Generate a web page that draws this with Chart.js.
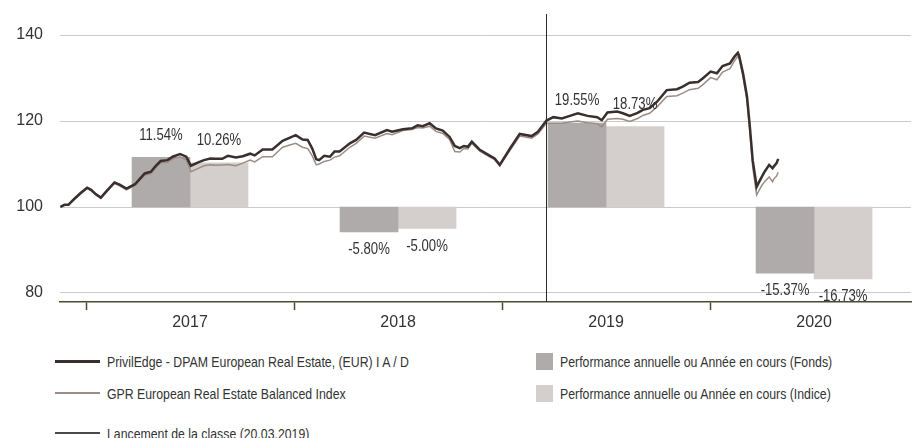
<!DOCTYPE html>
<html>
<head>
<meta charset="utf-8">
<script src="https://cdn.jsdelivr.net/npm/chart.js@4.4.1/dist/chart.umd.min.js"></script>
<style>
    html, body { margin: 0; padding: 0; background: #fff; width: 912px; height: 438px; overflow: hidden; }
    .chart-wrap { position: relative; width: 912px; height: 340px; }
    .legend { font-family: 'Liberation Sans', Arial, sans-serif; font-size: 15px; color: #333; }
    .legend__item { position: absolute; display: flex; align-items: center; height: 20px; white-space: nowrap; }
    .legend__line { width: 45px; margin-right: 7px; }
    .legend__box { width: 17px; height: 17px; margin-right: 7px; }
    .legend__text { display: inline-block; transform: scaleX(0.82); transform-origin: left center; }
</style>
</head>
<body>
<div class="chart-wrap"><canvas id="chart" width="912" height="340"></canvas></div>
<div class="legend" id="legend"></div>
<script>
'use strict'
const dates = [
    '2016-11-17', '2016-11-24', '2016-12-01', '2016-12-09', '2016-12-22',
    '2017-01-03', '2017-01-10', '2017-01-18', '2017-01-27', '2017-02-08', '2017-02-20', '2017-03-01', '2017-03-13',
    '2017-03-28', '2017-04-05', '2017-04-14', '2017-04-25', '2017-05-03', '2017-05-12', '2017-05-24', '2017-06-02',
    '2017-06-15', '2017-06-26', '2017-07-04', '2017-07-17', '2017-07-27', '2017-08-07', '2017-08-17', '2017-08-28',
    '2017-09-07', '2017-09-21', '2017-10-03', '2017-10-16', '2017-10-24', '2017-11-07', '2017-11-24', '2017-12-12',
    '2017-12-26',
    '2018-01-04', '2018-01-16', '2018-01-25', '2018-02-02', '2018-02-09', '2018-02-14', '2018-02-23', '2018-03-05',
    '2018-03-13', '2018-03-22', '2018-04-09', '2018-04-20', '2018-05-04', '2018-05-23', '2018-06-13', '2018-06-22',
    '2018-07-11', '2018-07-27', '2018-08-06', '2018-08-15', '2018-08-27', '2018-09-07', '2018-09-19', '2018-10-01',
    '2018-10-10', '2018-10-19', '2018-10-26', '2018-11-02', '2018-11-09', '2018-11-23', '2018-12-11', '2018-12-19',
    '2018-12-28',
    '2019-01-15', '2019-02-01', '2019-02-22', '2019-03-05', '2019-03-20', '2019-04-01', '2019-04-16', '2019-04-30',
    '2019-05-14', '2019-05-31', '2019-06-17', '2019-06-25', '2019-07-05', '2019-07-22', '2019-08-01', '2019-08-13',
    '2019-08-27', '2019-09-05', '2019-09-17', '2019-09-30', '2019-10-17', '2019-11-04', '2019-11-14', '2019-11-26',
    '2019-12-11', '2019-12-19',
    '2020-01-02', '2020-01-13', '2020-01-23', '2020-02-05', '2020-02-13', '2020-02-19', '2020-02-21', '2020-02-28',
    '2020-03-06', '2020-03-11', '2020-03-16', '2020-03-23', '2020-03-26', '2020-04-01', '2020-04-06', '2020-04-14',
    '2020-04-20', '2020-04-22', '2020-04-27', '2020-04-30'
];
const fundValues = [
    100.0, 100.5, 100.5, 101.6, 103.2,
    104.5, 104.0, 103.0, 102.2, 104.0, 105.7, 105.2, 104.3,
    105.3, 106.5, 107.8, 108.2, 109.5, 110.7, 110.9, 111.7,
    112.3, 111.7, 109.6, 110.4, 110.9, 111.3, 111.2, 111.2,
    111.9, 111.5, 111.8, 112.4, 112.0, 113.4, 113.4, 115.4,
    116.2,
    116.7, 115.7, 115.6, 113.6, 111.1, 110.9, 111.9, 111.7,
    112.9, 112.9, 114.8, 115.6, 117.3, 116.7, 117.9, 117.5,
    118.1, 118.3, 119.0, 118.8, 119.5, 118.3, 117.8, 116.3,
    114.2, 113.7, 114.2, 114.0, 115.2, 113.3, 111.9, 111.3,
    109.8,
    113.6, 117.0, 116.5, 117.5, 120.1, 120.9, 120.6, 121.2,
    121.8, 121.2, 120.9, 120.2, 122.0, 122.2, 121.8, 121.2,
    121.9, 122.6, 123.0, 124.5, 127.2, 127.4, 128.0, 128.9,
    129.1, 129.9,
    131.5, 131.1, 132.8, 133.4, 135.0, 135.9, 135.3, 131.1,
    125.7, 118.7, 110.9, 104.7, 105.5, 107.0, 108.2, 109.8,
    109.0, 109.4, 110.2, 111.2
];
const indexValues = [
    100.0, 100.4, 100.4, 101.4, 103.0,
    104.3, 103.8, 102.8, 102.0, 103.8, 105.5, 104.9, 104.0,
    105.0, 106.2, 107.4, 107.8, 109.1, 110.3, 110.4, 111.2,
    111.7, 111.0, 108.2, 109.0, 109.6, 109.8, 109.7, 109.8,
    109.9, 109.6, 110.2, 110.9, 110.5, 111.7, 111.7, 113.9,
    114.5,
    114.8, 113.9, 113.6, 111.9, 109.8, 110.0, 110.6, 110.9,
    111.6, 111.9, 113.9, 114.8, 116.5, 116.0, 117.1, 116.8,
    117.8, 118.0, 118.5, 118.4, 118.8, 117.6, 117.1, 115.7,
    112.9, 112.8, 113.6, 113.5, 114.8, 113.0, 111.6, 111.0,
    109.6,
    113.2, 116.5, 116.0, 117.0, 119.5, 119.5, 119.5, 119.8,
    120.0, 119.6, 119.4, 118.7, 120.4, 120.6, 120.4, 119.9,
    120.6, 121.3, 121.8, 123.3, 125.7, 125.9, 126.5, 127.3,
    127.6, 128.4,
    130.1, 129.6, 131.4, 132.2, 134.0, 135.1, 134.6, 130.3,
    124.8, 117.5, 109.3, 102.8, 103.6, 105.0, 105.9, 107.0,
    105.9, 106.5, 107.2, 108.1
];
const years = [2017, 2018, 2019, 2020];
const fundPerf = [11.54, -5.80, 19.55, -15.37];
const indexPerf = [10.26, -5.00, 18.73, -16.73];
const yTicks = [80, 100, 120, 140];
const launchDate = '2019-03-20';

const fundLabel = 'PrivilEdge - DPAM European Real Estate, (EUR) I A / D';
const indexLabel = 'GPR European Real Estate Balanced Index';
const fundPerfLabel = 'Performance annuelle ou Année en cours (Fonds)';
const indexPerfLabel = 'Performance annuelle ou Année en cours (Indice)';
const launchLabel = 'Lancement de la classe (20.03.2019)';

const colors = { fund: '#3a2f2f', index: '#9b8d86', fundBar: '#afabaa', indexBar: '#d4cfcc', launch: '#2b2b2b', axis: '#4b4b35', grid: '#cbcbcb', text: '#333' };
const regular = "'Liberation Sans', Arial, sans-serif";

// date string -> decimal year, so the x axis is a plain linear scale
function toYear(str) {
    const [y, m, d] = str.split('-').map(Number);
    const start = Date.UTC(y, 0, 1);
    return y + (Date.UTC(y, m - 1, d) - start) / (Date.UTC(y + 1, 0, 1) - start);
}

// percentage over / under each bar, squeezed a bit like a condensed face
const barLabels = {
    id: 'barLabels',
    afterDatasetsDraw(chart) {
        const ctx = chart.ctx;
        [fundPerf, indexPerf].forEach((perf, k) => {
            chart.getDatasetMeta(k + 2).data.forEach((bar, i) => {
                const y = perf[i] >= 0 ? Math.min(bar.y, bar.base) - 22 : Math.max(bar.y, bar.base) + 18;
                ctx.save();
                ctx.font = '16px ' + regular;
                ctx.fillStyle = colors.text;
                ctx.textAlign = 'center';
                ctx.textBaseline = 'middle';
                ctx.translate(bar.x, y);
                ctx.scale(0.82, 1);
                ctx.fillText(perf[i].toFixed(2) + '%', 0, 0);
                ctx.restore();
            });
        });
    }
};

const launchLine = {
    id: 'launchLine',
    afterDatasetsDraw(chart) {
        const ctx = chart.ctx;
        const x = Math.round(chart.scales.x.getPixelForValue(toYear(launchDate))) + 0.5;
        ctx.save();
        ctx.strokeStyle = colors.launch;
        ctx.lineWidth = 1;
        ctx.beginPath();
        ctx.moveTo(x, chart.chartArea.top);
        ctx.lineTo(x, chart.chartArea.bottom);
        ctx.stroke();
        ctx.restore();
    }
};

new Chart(document.getElementById('chart'), {
    data: {
        datasets: [
            {
                type: 'line', label: fundLabel, order: 0,
                data: dates.map((d, i) => ({ x: toYear(d), y: fundValues[i] })),
                borderColor: colors.fund, borderWidth: 2.5, pointRadius: 0, tension: 0
            },
            {
                type: 'line', label: indexLabel, order: 1,
                data: dates.map((d, i) => ({ x: toYear(d), y: indexValues[i] })),
                borderColor: colors.index, borderWidth: 1.5, pointRadius: 0, tension: 0
            },
            {
                type: 'bar', label: fundPerfLabel, order: 2,
                data: years.map((y, i) => ({ x: y + 0.5, y: [100, 100 + fundPerf[i]] })),
                backgroundColor: colors.fundBar, barThickness: 58
            },
            {
                type: 'bar', label: indexPerfLabel, order: 3,
                data: years.map((y, i) => ({ x: y + 0.5, y: [100, 100 + indexPerf[i]] })),
                backgroundColor: colors.indexBar, barThickness: 58
            }
        ]
    },
    options: {
        responsive: false,
        animation: false,
        layout: { padding: { top: 14, right: 1 } },
        plugins: { legend: { display: false }, tooltip: { enabled: false } },
        scales: {
            x: {
                type: 'linear',
                offset: false,
                min: 2016.875,
                max: 2020.966,
                afterBuildTicks: scale => {
                    scale.ticks = [];
                    years.forEach(y => scale.ticks.push({ value: y }, { value: y + 0.5 }));
                },
                afterFit: scale => {
                    scale.height = 38;
                    scale.paddingLeft = 0;
                    scale.paddingRight = 0;
                },
                grid: {
                    drawOnChartArea: false,
                    offset: false,
                    tickLength: 8,
                    tickWidth: 1.5,
                    tickColor: c => c.tick && c.tick.value % 1 === 0 ? colors.axis : 'rgba(0,0,0,0)'
                },
                border: { color: colors.axis, width: 1.5 },
                ticks: {
                    autoSkip: false,
                    maxRotation: 0,
                    padding: 3,
                    color: colors.text,
                    font: { family: regular, size: 16 },
                    callback: v => v % 1 ? String(Math.floor(v)) : ''
                }
            },
            y: {
                min: 77.9,
                max: 144.9,
                afterBuildTicks: scale => { scale.ticks = yTicks.map(v => ({ value: v })) },
                afterFit: scale => {
                    scale.width = 60;
                    scale.paddingTop = 0;
                    scale.paddingBottom = 0;
                },
                grid: { color: colors.grid, drawTicks: false },
                border: { display: false },
                ticks: { padding: 17, color: colors.text, font: { family: regular, size: 16 } }
            }
        }
    },
    plugins: [barLabels, launchLine]
});

// legend below the chart, laid out in two columns like the factsheet
const legendItems = [
    { text: fundLabel, left: 55, top: 351, line: colors.fund, width: 3 },
    { text: indexLabel, left: 55, top: 383, line: colors.index, width: 2 },
    { text: launchLabel, left: 55, top: 423, line: '#4a4a4a', width: 2 },
    { text: fundPerfLabel, left: 536, top: 351, box: colors.fundBar },
    { text: indexPerfLabel, left: 536, top: 383, box: colors.indexBar }
];
const legend = document.getElementById('legend');
legendItems.forEach(item => {
    const el = document.createElement('div');
    el.className = 'legend__item';
    el.style.left = item.left + 'px';
    el.style.top = item.top + 'px';
    const mark = document.createElement('span');
    if (item.box) {
        mark.className = 'legend__box';
        mark.style.background = item.box;
    } else {
        mark.className = 'legend__line';
        mark.style.height = item.width + 'px';
        mark.style.background = item.line;
    }
    const label = document.createElement('span');
    label.className = 'legend__text';
    label.textContent = item.text;
    el.appendChild(mark);
    el.appendChild(label);
    legend.appendChild(el);
});
</script>
</body>
</html>
